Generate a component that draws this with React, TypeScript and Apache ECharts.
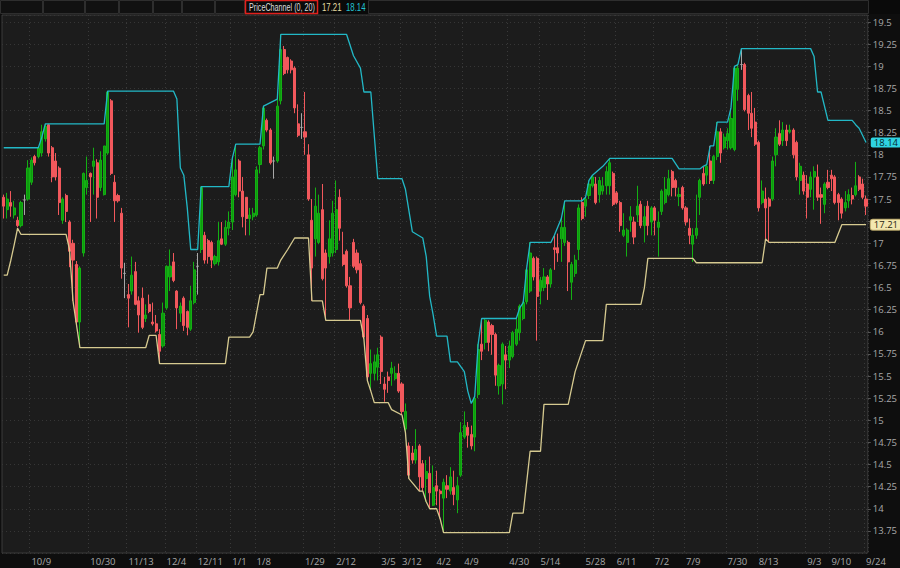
import React, { useEffect, useRef } from "react";
import * as echarts from "echarts";

// Date tick labels and the bar index each one sits at
const dateLabels = ["10/9", "10/30", "11/13", "12/4", "12/11", "1/1", "1/8", "1/29", "2/12", "3/5", "3/12", "4/2", "4/9", "4/30", "5/14", "5/28", "6/11", "7/2", "7/9", "7/30", "8/13", "9/3", "9/10", "9/24"];
const dateLabelBars = [8, 25, 36, 47, 56, 66, 73, 87, 96, 109, 115, 125, 133, 146, 155, 168, 177, 188, 197, 209, 218, 232, 239, 249];

// Daily candles: [open, high, low, close]
const candlesQ1: number[][] = [
  [17.52, 17.55, 17.28, 17.42], [17.38, 17.57, 17.28, 17.50], [17.46, 17.59, 17.30, 17.42], [17.32, 17.48, 17.28, 17.40],
  [17.26, 17.30, 17.18, 17.20], [17.20, 17.48, 17.18, 17.46], [17.49, 17.55, 17.32, 17.49], [17.50, 17.94, 17.48, 17.85],
  [17.69, 17.97, 17.66, 17.94], [17.98, 18.00, 17.88, 17.91], [17.98, 18.10, 17.96, 18.08], [18.02, 18.34, 17.98, 18.26],
  [18.18, 18.35, 18.15, 18.32], [18.34, 18.35, 17.98, 18.02], [18.08, 18.10, 17.69, 17.75], [17.93, 18.02, 17.71, 17.75],
  [17.85, 17.87, 17.32, 17.46], [17.26, 17.52, 17.22, 17.50], [17.54, 17.56, 17.24, 17.36], [17.24, 17.26, 16.73, 16.91],
  [17.00, 17.04, 16.35, 16.81], [16.76, 16.80, 16.08, 16.11], [16.11, 16.74, 15.82, 16.72], [16.89, 17.80, 16.85, 17.79],
  [17.63, 17.98, 17.55, 17.71], [17.79, 17.80, 17.24, 17.75], [17.87, 18.08, 17.55, 17.93], [17.91, 17.95, 17.28, 17.52],
  [17.63, 18.04, 17.59, 17.94], [17.55, 18.10, 17.54, 18.10], [18.02, 18.72, 18.00, 18.71], [18.61, 18.63, 17.77, 17.79],
  [17.69, 17.77, 17.24, 17.48], [17.54, 17.56, 17.46, 17.48], [17.34, 17.40, 16.60, 16.72], [16.66, 16.78, 16.38, 16.66],
  [16.42, 16.54, 16.05, 16.38], [16.46, 16.85, 16.42, 16.64], [16.68, 16.79, 16.30, 16.31], [16.35, 16.40, 15.99, 16.19],
  [16.38, 16.50, 16.03, 16.05], [16.15, 16.31, 16.11, 16.19], [16.31, 16.42, 16.21, 16.23], [16.11, 16.33, 16.07, 16.09],
  [16.09, 16.19, 15.99, 16.01], [15.97, 16.03, 15.64, 15.78], [15.84, 16.33, 15.82, 16.21], [16.27, 16.75, 16.25, 16.74],
  [16.62, 16.93, 16.46, 16.74], [16.79, 16.89, 16.56, 16.58], [16.46, 16.47, 16.03, 16.27], [16.21, 16.33, 16.11, 16.29],
  [16.38, 16.40, 16.01, 16.07], [16.23, 16.24, 15.96, 16.05], [16.03, 16.52, 16.01, 16.35], [16.33, 16.79, 16.31, 16.70],
  [16.74, 16.89, 16.42, 16.74], [16.93, 17.64, 16.89, 17.63], [17.09, 17.13, 16.77, 16.81], [17.03, 17.05, 16.77, 16.85],
  [17.01, 17.03, 16.72, 16.81], [16.77, 16.87, 16.75, 16.85],
];
const candlesQ2: number[][] = [
  [16.79, 17.24, 16.75, 17.03], [17.05, 17.24, 16.98, 16.99], [16.99, 17.26, 16.97, 17.18], [17.17, 17.36, 17.09, 17.24],
  [17.24, 17.96, 17.15, 17.75], [17.55, 18.12, 17.53, 17.83], [17.93, 17.95, 17.52, 17.59], [17.59, 17.75, 17.18, 17.30],
  [17.52, 17.52, 17.09, 17.28], [17.28, 17.40, 17.09, 17.32], [17.30, 17.40, 17.26, 17.34], [17.32, 17.87, 17.30, 17.83],
  [17.89, 18.10, 17.79, 18.08], [18.10, 18.55, 18.06, 18.53], [18.39, 18.41, 18.26, 18.28], [18.28, 18.30, 17.89, 17.91],
  [17.93, 17.98, 17.73, 17.93], [17.93, 18.63, 17.91, 18.55], [18.61, 19.36, 18.57, 19.19], [19.19, 19.23, 18.90, 18.92],
  [19.10, 19.11, 18.92, 18.96], [19.06, 19.08, 18.92, 18.96], [18.98, 19.00, 18.47, 18.53], [18.35, 18.57, 18.20, 18.22],
  [18.31, 18.47, 18.18, 18.31], [18.26, 18.71, 18.00, 18.20], [18.00, 18.12, 17.48, 17.50], [17.26, 17.50, 16.35, 16.72],
  [17.05, 17.63, 16.85, 17.42], [17.01, 17.55, 16.99, 17.34], [17.38, 17.67, 16.58, 16.60], [16.89, 16.93, 16.13, 16.72],
  [16.85, 17.26, 16.77, 17.05], [16.89, 17.48, 16.85, 17.34], [16.93, 17.71, 16.89, 17.38], [17.52, 17.61, 17.03, 17.17],
  [16.87, 17.13, 16.74, 16.76], [16.91, 16.93, 16.50, 16.52], [16.52, 16.62, 16.13, 16.27], [17.01, 17.05, 16.72, 16.74],
  [16.89, 16.93, 16.66, 16.70], [16.77, 16.81, 16.31, 16.33], [16.29, 16.31, 15.92, 15.94], [16.15, 16.19, 15.45, 15.49],
  [15.53, 15.80, 15.33, 15.64], [15.53, 15.74, 15.45, 15.66], [15.60, 15.82, 15.45, 15.74], [15.94, 15.96, 15.41, 15.55],
  [15.41, 15.49, 15.21, 15.35], [15.49, 15.55, 15.31, 15.45], [15.53, 15.66, 15.39, 15.59], [15.47, 15.61, 15.45, 15.53],
  [15.53, 15.64, 15.31, 15.33], [15.41, 15.43, 15.06, 15.10], [14.90, 15.19, 14.86, 15.10], [14.71, 14.75, 14.34, 14.38],
  [14.63, 14.71, 14.51, 14.55], [14.55, 14.90, 14.51, 14.67], [14.71, 14.73, 14.20, 14.36], [14.51, 14.55, 14.20, 14.24],
  [14.34, 14.55, 14.08, 14.42], [14.40, 14.59, 14.00, 14.18],
];
const candlesQ3: number[][] = [
  [14.04, 14.49, 14.03, 14.24], [14.26, 14.43, 14.04, 14.20], [14.20, 14.22, 13.89, 14.17], [14.12, 14.34, 13.73, 14.30],
  [14.26, 14.38, 14.12, 14.22], [14.20, 14.47, 14.16, 14.36], [14.24, 14.43, 14.04, 14.16], [14.10, 14.36, 13.95, 14.26],
  [14.38, 14.98, 14.36, 14.86], [14.81, 15.10, 14.79, 14.94], [14.92, 14.98, 14.69, 14.83], [14.84, 14.94, 14.67, 14.71],
  [14.81, 15.27, 14.65, 15.25], [15.29, 15.86, 15.25, 15.80], [15.86, 16.15, 15.68, 15.78], [15.88, 16.15, 15.80, 16.13],
  [16.11, 16.13, 15.78, 15.88], [16.07, 16.09, 15.74, 15.97], [15.97, 15.99, 15.39, 15.51], [15.39, 15.64, 15.29, 15.62],
  [15.41, 15.88, 15.18, 15.86], [15.74, 15.84, 15.35, 15.68], [15.68, 15.90, 15.59, 15.84], [15.72, 16.01, 15.70, 15.99],
  [15.86, 16.15, 15.84, 16.03], [15.99, 16.31, 15.90, 16.29], [16.15, 16.34, 16.13, 16.33], [16.34, 16.72, 16.31, 16.70],
  [16.46, 17.01, 16.44, 16.89], [16.83, 16.85, 16.58, 16.62], [16.83, 16.85, 15.90, 16.40], [16.46, 16.62, 16.31, 16.58],
  [16.50, 16.72, 16.46, 16.62], [16.62, 16.64, 16.36, 16.54], [16.54, 16.72, 16.50, 16.70], [16.95, 17.09, 16.70, 16.93],
  [16.95, 17.11, 16.79, 16.89], [17.05, 17.28, 16.79, 17.18], [17.01, 17.48, 16.97, 17.18], [17.01, 17.03, 16.46, 16.79],
  [16.56, 16.79, 16.36, 16.76], [16.66, 16.87, 16.62, 16.81], [16.93, 17.44, 16.81, 17.40], [17.46, 17.52, 17.26, 17.28],
  [17.42, 17.52, 17.30, 17.50], [17.54, 17.71, 17.50, 17.67], [17.65, 17.77, 17.63, 17.75], [17.67, 17.75, 17.44, 17.46],
  [17.55, 17.75, 17.46, 17.71], [17.59, 17.75, 17.55, 17.65], [17.65, 17.87, 17.55, 17.81], [17.65, 17.96, 17.55, 17.91],
  [17.79, 17.81, 17.42, 17.44], [17.57, 17.59, 17.44, 17.46], [17.46, 17.48, 17.13, 17.20], [17.09, 17.34, 17.07, 17.15],
  [17.01, 17.17, 16.85, 17.15], [17.26, 17.42, 17.13, 17.30], [17.24, 17.30, 16.99, 17.07], [17.32, 17.65, 17.24, 17.42],
  [17.44, 17.48, 17.17, 17.20], [17.20, 17.42, 17.01, 17.30],
];
const candlesQ4: number[][] = [
  [17.42, 17.48, 17.09, 17.20], [17.24, 17.42, 17.09, 17.40], [17.40, 17.42, 17.09, 17.26], [17.18, 17.36, 16.85, 17.24],
  [17.36, 17.61, 17.32, 17.59], [17.46, 17.75, 17.44, 17.61], [17.55, 17.83, 17.53, 17.73], [17.81, 17.83, 17.53, 17.63],
  [17.71, 17.73, 17.53, 17.63], [17.53, 17.63, 17.42, 17.55], [17.63, 17.65, 17.38, 17.40], [17.40, 17.42, 17.20, 17.24],
  [17.17, 17.28, 16.99, 17.09], [16.99, 17.17, 16.79, 17.09], [17.09, 17.55, 17.05, 17.17], [17.52, 17.73, 17.32, 17.71],
  [17.79, 17.87, 17.65, 17.67], [17.77, 17.89, 17.67, 17.87], [17.93, 18.10, 17.67, 17.71], [17.71, 18.00, 17.67, 17.98],
  [17.98, 18.37, 17.94, 18.26], [18.26, 18.30, 17.91, 18.02], [18.08, 18.24, 18.06, 18.20], [18.16, 18.30, 18.06, 18.24],
  [18.08, 18.53, 18.06, 18.41], [18.06, 19.00, 18.04, 18.98], [18.74, 19.02, 18.61, 18.98], [19.02, 19.20, 18.96, 19.02],
  [19.02, 19.04, 18.49, 18.51], [18.67, 18.69, 18.28, 18.47], [18.47, 18.71, 18.20, 18.30], [18.37, 18.53, 18.10, 18.12],
  [18.14, 18.16, 17.36, 17.40], [17.46, 17.71, 17.44, 17.59], [17.50, 17.63, 17.05, 17.40], [17.50, 17.52, 17.01, 17.42],
  [17.50, 17.98, 17.48, 17.93], [18.00, 18.30, 17.87, 18.20], [18.24, 18.39, 18.10, 18.12], [18.16, 18.37, 18.10, 18.28],
  [18.28, 18.34, 18.10, 18.16], [18.26, 18.34, 18.24, 18.28], [18.28, 18.30, 17.96, 18.00], [18.14, 18.16, 17.71, 17.75],
  [17.71, 17.91, 17.55, 17.87], [17.77, 17.81, 17.55, 17.59], [17.67, 17.77, 17.28, 17.52], [17.61, 17.81, 17.52, 17.75],
  [17.75, 17.87, 17.38, 17.81], [17.75, 17.89, 17.48, 17.52], [17.55, 17.63, 17.22, 17.52], [17.44, 17.69, 17.34, 17.67],
  [17.69, 17.83, 17.61, 17.63], [17.77, 17.83, 17.59, 17.73], [17.75, 17.77, 17.44, 17.46], [17.55, 17.57, 17.26, 17.46],
  [17.50, 17.52, 17.28, 17.34], [17.40, 17.59, 17.36, 17.46], [17.48, 17.61, 17.40, 17.55], [17.54, 17.63, 17.44, 17.50],
  [17.55, 17.92, 17.53, 17.65], [17.75, 17.77, 17.59, 17.61], [17.67, 17.73, 17.50, 17.52], [17.50, 17.54, 17.32, 17.42],
];

// Price channel (20) upper and lower bands: [bar index, value] at each change
const upperBand: number[][] = [
  [0, 18.08], [10, 18.08], [11, 18.2], [12, 18.35], [29, 18.35], [30, 18.72], [49, 18.72], [50, 18.63], [51, 17.85],
  [52, 17.77], [53, 17.4], [54, 16.93], [56, 16.93], [57, 17.64], [65, 17.64], [66, 17.96], [67, 18.12], [74, 18.12],
  [75, 18.55], [79, 18.63], [80, 19.36], [99, 19.36], [101, 19.12], [103, 18.98], [104, 18.71], [106, 18.71], [108, 17.73],
  [115, 17.73], [116, 17.61], [118, 17.13], [121, 17.06], [122, 16.85], [123, 16.4], [124, 16.19], [125, 15.95],
  [128, 15.95], [129, 15.66], [131, 15.66], [133, 15.55], [134, 15.33], [135, 15.19], [136, 15.27], [137, 15.86],
  [138, 16.15], [148, 16.15], [149, 16.27], [150, 16.33], [151, 16.72], [152, 17.01], [158, 17.01], [159, 17.09],
  [161, 17.28], [162, 17.48], [167, 17.48], [168, 17.52], [169, 17.71], [170, 17.77], [173, 17.87], [175, 17.96],
  [193, 17.96], [195, 17.84], [201, 17.84], [202, 17.87], [203, 17.89], [204, 18.1], [205, 18.1], [206, 18.37],
  [209, 18.37], [210, 18.53], [211, 19.0], [212, 19.02], [213, 19.2], [233, 19.2], [234, 19.11], [235, 18.71],
  [236, 18.71], [238, 18.39], [245, 18.39], [246, 18.34], [247, 18.3], [249, 18.14],
];
const lowerBand: number[][] = [
  [0, 16.64], [1, 16.64], [2, 16.8], [3, 16.98], [4, 17.17], [5, 17.1], [18, 17.1], [19, 16.93], [20, 16.35],
  [21, 16.08], [22, 15.82], [41, 15.82], [42, 15.96], [44, 15.96], [45, 15.64], [64, 15.64], [65, 15.94], [71, 15.94],
  [72, 16.0], [74, 16.42], [75, 16.42], [76, 16.72], [79, 16.72], [80, 16.81], [82, 16.93], [84, 17.06], [88, 17.06],
  [89, 16.35], [92, 16.35], [93, 16.13], [103, 16.13], [104, 15.92], [105, 15.45], [106, 15.33], [107, 15.2],
  [111, 15.2], [112, 15.12], [115, 15.06], [116, 14.86], [117, 14.34], [120, 14.2], [121, 14.2], [122, 14.08],
  [123, 14.0], [125, 14.0], [126, 13.89], [127, 13.73], [146, 13.73], [147, 13.95], [150, 13.95], [152, 14.65],
  [155, 14.65], [156, 15.18], [163, 15.18], [165, 15.55], [168, 15.9], [173, 15.9], [174, 16.31], [184, 16.31],
  [185, 16.5], [186, 16.83], [199, 16.83], [200, 16.78], [219, 16.78], [220, 17.05], [221, 17.01], [240, 17.01],
  [242, 17.21], [249, 17.21],
];

const yMin = 13.5;
const yMax = 19.58;
const yStep = 0.25;

export default function App() {
  const ref = useRef<HTMLDivElement>(null);

  useEffect(() => {
    if (!ref.current) return;
    const chart = echarts.init(ref.current, null, { renderer: "svg" });

    const candles = [...candlesQ1, ...candlesQ2, ...candlesQ3, ...candlesQ4];
    const labelByBar: Record<number, string> = {};
    dateLabelBars.forEach((b, i) => (labelByBar[b] = dateLabels[i]));
    const categories = candles.map((_, i) => String(i));
    const showTick = (idx: number) => labelByBar[idx] !== undefined;

    const candleData = candles.map(([o, h, l, c]) => {
      const item: any = { value: [o, c, l, h] };
      if (o === c) item.itemStyle = { color: "#a8a8a8", borderColor: "#a8a8a8" };
      return item;
    });

    const upperLast = upperBand[upperBand.length - 1][1];
    const lowerLast = lowerBand[lowerBand.length - 1][1];
    const font = "'Liberation Sans', Arial, sans-serif";
    const axisFont = "'Open Sans', 'Noto Sans', sans-serif";

    const topCells = [0, 43, 85, 119, 153, 182, 215];
    const cellW = [43, 42, 34, 34, 29, 33, 30];
    const graphic: any[] = [
      { type: "rect", left: 0, top: 0, shape: { width: 900, height: 14 }, style: { fill: "#0a0a0a" }, silent: true },
      ...topCells.map((x, i) => ({
        type: "rect", shape: { x: x + 0.5, y: 0.5, width: cellW[i] - 1, height: 13 },
        style: { fill: "#111111", stroke: "#2e2e2e", lineWidth: 1 }, silent: true,
      })),
      { type: "rect", shape: { x: 368.5, y: 0.5, width: 500, height: 13 }, style: { fill: "#111111", stroke: "#2e2e2e", lineWidth: 1 }, silent: true },
      { type: "rect", shape: { x: 245.5, y: 0.5, width: 72, height: 13 }, style: { fill: "#0a0a0a", stroke: "#e0201c", lineWidth: 1.5 }, silent: true },
      { type: "text", x: 249, y: 7.5, scaleX: 0.72, style: { text: "PriceChannel (0, 20)", fill: "#dcdcdc", font: `10px ${font}`, verticalAlign: "middle" }, silent: true },
      { type: "text", x: 322, y: 7.5, scaleX: 0.78, style: { text: lowerLast.toFixed(2), fill: "#e6dca4", font: `10px ${font}`, verticalAlign: "middle" }, silent: true },
      { type: "text", x: 346, y: 7.5, scaleX: 0.78, style: { text: upperLast.toFixed(2), fill: "#22c2d2", font: `10px ${font}`, verticalAlign: "middle" }, silent: true },
    ];

    // axis labels that sit under a value box are covered by it
    const coveredByBox = (v: number) => Math.abs(v - lowerLast) < 0.07 || Math.abs(v - upperLast) < 0.07;

    const endBox = (value: number, bg: string, fg: string, border?: string) => ({
      silent: true,
      symbol: "none",
      lineStyle: { color: "rgba(0,0,0,0)", width: 0, opacity: 1 },
      data: [{ yAxis: value }],
      label: {
        show: true, position: "end", distance: 3, formatter: value.toFixed(2), opacity: 1,
        backgroundColor: bg, color: fg, padding: [1, 3, 0, 3], borderRadius: 2,
        borderColor: border || bg, borderWidth: border ? 1 : 0,
        fontSize: 9.5, lineHeight: 9, fontFamily: axisFont,
      },
      emphasis: { disabled: true },
    });

    chart.setOption({
      animation: false,
      backgroundColor: "#0e0e0e",
      textStyle: { fontFamily: axisFont },
      graphic,
      grid: {
        left: 2, right: 31, top: 15, bottom: 15,
        show: true, backgroundColor: "#1c1c1c", borderColor: "#3a3a3a", borderWidth: 1,
      },
      xAxis: {
        type: "category",
        data: categories,
        boundaryGap: true,
        axisLine: { show: false },
        axisTick: { show: false },
        axisLabel: {
          interval: (idx: number) => showTick(idx),
          formatter: (v: string) => labelByBar[Number(v)] ?? "",
          color: "#a9a9a9", fontSize: 9.5, align: "left", margin: 3, fontFamily: axisFont,
        },
        splitLine: { show: true, interval: (idx: number) => showTick(idx), lineStyle: { color: "#3a3a3a", type: [1, 3], width: 1 } },
      },
      yAxis: {
        type: "value",
        position: "right",
        min: yMin, max: yMax, interval: yStep,
        axisLine: { show: false },
        axisTick: { show: true, length: 3, lineStyle: { color: "#555" } },
        axisLabel: {
          color: "#a9a9a9", fontSize: 9.5, lineHeight: 9, margin: 5, fontFamily: axisFont,
          showMaxLabel: false, showMinLabel: false,
          formatter: (v: number) => (coveredByBox(v) ? "" : String(Math.round(v * 100) / 100)),
        },
        splitLine: { show: true, lineStyle: { color: "#363636", type: [1, 3], width: 1 } },
      },
      series: [
        {
          type: "candlestick",
          data: candleData,
          barWidth: 2.6,
          itemStyle: {
            color: "#0e9a0e", color0: "#f2585c",
            borderColor: "#13b013", borderColor0: "#f2585c", borderWidth: 1,
          },
        },
        {
          type: "line",
          data: upperBand,
          clip: false,
          showSymbol: false,
          symbol: "none",
          lineStyle: { color: "#22b8c6", width: 1.3 },
          markLine: endBox(upperLast, "#2fd4e2", "#06282c"),
        },
        {
          type: "line",
          data: lowerBand,
          clip: false,
          showSymbol: false,
          symbol: "none",
          lineStyle: { color: "#d6ca90", width: 1.3 },
          markLine: endBox(lowerLast, "#f3e7b0", "#2a2410", "#b8a66a"),
        },
      ],
    });

    return () => chart.dispose();
  }, []);

  return <div ref={ref} style={{ position: "fixed", left: 0, top: 0, width: 900, height: 568 }} />;
}
